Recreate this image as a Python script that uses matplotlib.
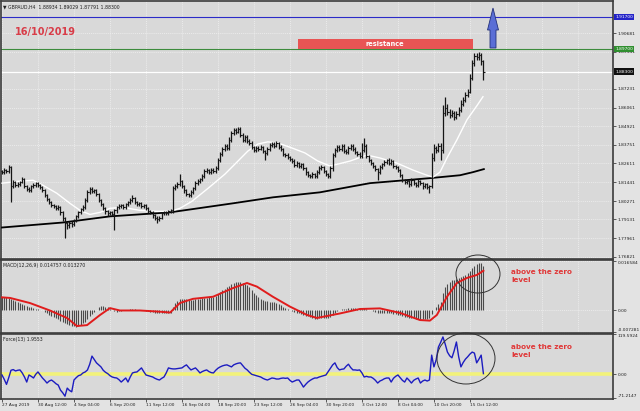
import matplotlib
matplotlib.use("Agg")
import matplotlib.pyplot as plt
from matplotlib.patches import Rectangle, Ellipse, Polygon
import numpy as np

# GBPAUD H4, 27 Aug - 16 Oct 2019
closes = [
    1.8206, 1.8219, 1.8212, 1.8237, 1.8119, 1.8144, 1.8125, 1.8131, 1.8144, 1.8163,
    1.8119, 1.8100, 1.8094, 1.8119, 1.8125, 1.8138, 1.8125, 1.8113, 1.8094, 1.8063,
    1.8038, 1.8019, 1.8000, 1.7994, 1.7982, 1.7988, 1.7957, 1.7919, 1.7888, 1.7876,
    1.7894, 1.7882, 1.7907, 1.7932, 1.7957, 1.7975, 1.7988, 1.8032, 1.8081, 1.8100,
    1.8088, 1.8094, 1.8069, 1.8032, 1.8007, 1.7982, 1.7963, 1.7950, 1.7957, 1.7944,
    1.7969, 1.7988, 1.7994, 1.8000, 1.7988, 1.8007, 1.8019, 1.8032, 1.8044, 1.8019,
    1.8007, 1.8013, 1.7994, 1.8000, 1.7982, 1.7963, 1.7957, 1.7938, 1.7925, 1.7913,
    1.7925, 1.7950, 1.7957, 1.7950, 1.7963, 1.7969, 1.8106, 1.8119, 1.8131, 1.8150,
    1.8119, 1.8094, 1.8069, 1.8063, 1.8081, 1.8106, 1.8138, 1.8150, 1.8163, 1.8181,
    1.8213, 1.8219, 1.8206, 1.8219, 1.8212, 1.8231, 1.8281, 1.8319, 1.8350, 1.8369,
    1.8356, 1.8406, 1.8450, 1.8468, 1.8456, 1.8475, 1.8438, 1.8406, 1.8425, 1.8400,
    1.8387, 1.8362, 1.8344, 1.8356, 1.8350, 1.8362, 1.8337, 1.8325, 1.8350, 1.8375,
    1.8381, 1.8369, 1.8387, 1.8362, 1.8350, 1.8319, 1.8312, 1.8300, 1.8287, 1.8275,
    1.8250, 1.8262, 1.8244, 1.8256, 1.8231, 1.8206, 1.8187, 1.8181, 1.8194, 1.8181,
    1.8206, 1.8231, 1.8237, 1.8212, 1.8194, 1.8181, 1.8231, 1.8312, 1.8344, 1.8362,
    1.8350, 1.8369, 1.8337, 1.8331, 1.8356, 1.8369, 1.8350, 1.8331, 1.8319, 1.8306,
    1.8344, 1.8369, 1.8306, 1.8281, 1.8262, 1.8244, 1.8225, 1.8206, 1.8237, 1.8256,
    1.8269, 1.8281, 1.8262, 1.8275, 1.8244, 1.8237, 1.8219, 1.8187, 1.8156, 1.8144,
    1.8150, 1.8131, 1.8156, 1.8138, 1.8125, 1.8150, 1.8138, 1.8119, 1.8131, 1.8113,
    1.8119, 1.8294, 1.8356, 1.8344, 1.8369, 1.8344, 1.8574, 1.8606, 1.8581, 1.8562,
    1.8574, 1.8549, 1.8568, 1.8593, 1.8631, 1.8656, 1.8687, 1.8706, 1.8793, 1.8880,
    1.8924, 1.8918, 1.8930, 1.8893, 1.8830,
]
first_open = 1.8212

# wick lengths in pips above / below the bar body
wick_up = [
    10, 12, 9, 13, 8, 11, 9, 14, 10, 12,
    8, 9, 11, 10, 12, 9, 8, 10, 7, 9,
    8, 10, 9, 7, 11, 12, 8, 9, 10, 11,
    12, 9, 10, 11, 9, 10, 12, 14, 12, 15,
    11, 10, 8, 9, 10, 8, 9, 11, 10, 8,
    9, 10, 12, 9, 11, 10, 9, 12, 18, 10,
    9, 11, 8, 10, 9, 8, 10, 9, 7, 8,
    10, 9, 11, 8, 10, 9, 14, 12, 15, 45,
    10, 9, 8, 10, 12, 11, 13, 12, 10, 11,
    14, 12, 9, 11, 10, 12, 15, 13, 12, 14,
    10, 16, 12, 14, 11, 12, 10, 9, 12, 10,
    9, 10, 8, 11, 10, 12, 9, 8, 11, 14,
    13, 10, 14, 9, 10, 8, 9, 10, 8, 9,
    10, 11, 9, 10, 8, 9, 10, 8, 11, 9,
    12, 11, 14, 9, 10, 8, 15, 16, 12, 15,
    11, 12, 9, 10, 13, 12, 9, 10, 8, 11,
    40, 50, 10, 8, 9, 10, 9, 8, 11, 10,
    12, 9, 10, 11, 8, 9, 10, 8, 9, 10,
    11, 9, 12, 8, 10, 12, 9, 8, 11, 9,
    10, 30, 22, 14, 16, 20, 50, 65, 20, 18,
    16, 14, 15, 18, 20, 16, 18, 15, 22, 20,
    18, 20, 21, 16, 10,
]
wick_dn = [
    12, 10, 14, 9, 100, 12, 10, 9, 11, 8,
    14, 12, 10, 9, 11, 10, 12, 9, 10, 11,
    12, 10, 9, 11, 10, 12, 14, 16, 90, 20,
    15, 18, 12, 10, 11, 9, 10, 12, 9, 10,
    11, 9, 12, 10, 11, 12, 14, 13, 10, 12,
    95, 14, 10, 11, 12, 9, 10, 11, 9, 12,
    10, 12, 11, 9, 13, 12, 10, 14, 15, 20,
    12, 10, 9, 11, 10, 12, 15, 10, 12, 11,
    12, 14, 11, 13, 10, 9, 11, 10, 12, 9,
    10, 11, 12, 9, 13, 10, 12, 10, 11, 12,
    14, 10, 12, 11, 13, 10, 12, 15, 11, 12,
    10, 12, 11, 13, 10, 9, 12, 44, 10, 11,
    12, 10, 9, 12, 11, 13, 10, 12, 11, 14,
    12, 10, 11, 13, 12, 15, 12, 10, 11, 12,
    10, 11, 9, 12, 13, 14, 12, 15, 10, 12,
    11, 10, 13, 12, 10, 11, 12, 14, 12, 11,
    12, 10, 14, 13, 12, 11, 12, 50, 10, 11,
    9, 10, 12, 11, 13, 12, 14, 12, 13, 11,
    12, 14, 10, 12, 13, 10, 12, 15, 11, 14,
    36, 12, 20, 18, 15, 63, 16, 20, 22, 18,
    15, 17, 16, 14, 12, 15, 14, 16, 12, 18,
    15, 18, 16, 20, 51,
]

# moving averages (white = fast, black = slow), sampled along the line
ma_fast_bar = [0, 8, 13.8, 18.2, 24.4, 30.2, 34.7, 39.1, 43.6, 48, 53.8, 61.3, 68.9,
               74.7, 79.1, 84.4, 91.6, 99.1, 104.9, 109.3, 113.8, 118.2, 122.7, 128.9,
               134.7, 140.4, 145.8, 154.7, 162.2, 168, 175.6, 182.7, 188.9, 191.6,
               194.7, 197.8, 202.2, 206.7, 211.1, 213.8]
ma_fast_val = [1.8138, 1.8150, 1.8156, 1.8125, 1.8075, 1.8013, 1.7969, 1.7944, 1.7957,
               1.7982, 1.7988, 1.7969, 1.7963, 1.7963, 1.7982, 1.8025, 1.8106, 1.8194,
               1.8275, 1.8337, 1.8381, 1.8394, 1.8387, 1.8356, 1.8325, 1.8275, 1.8244,
               1.8275, 1.8312, 1.8294, 1.8262, 1.8219, 1.8187, 1.8175, 1.8206, 1.8294,
               1.8406, 1.8531, 1.8618, 1.8674]
ma_slow_bar = [0, 27.1, 48, 74.7, 102.7, 120.4, 141.3, 163.6, 190.2, 203.6, 209.3, 214.2]
ma_slow_val = [1.7863, 1.7894, 1.7932, 1.7957, 1.8013, 1.8050, 1.8081, 1.8138, 1.8169,
               1.8187, 1.8206, 1.8225]

# MACD(12,26,9): main histogram per bar, signal line sampled
macd_main = [
    0.0044, 0.0045, 0.0044, 0.0043, 0.0040, 0.0036, 0.0032, 0.0029, 0.0026, 0.0022,
    0.0019, 0.0016, 0.0013, 0.0010, 0.0008, 0.0006, 0.0004, 0.0002, 0.0000, -0.0004,
    -0.0009, -0.0014, -0.0018, -0.0022, -0.0026, -0.0030, -0.0034, -0.0038, -0.0041, -0.0044,
    -0.0048, -0.0051, -0.0053, -0.0055, -0.0052, -0.0047, -0.0042, -0.0037, -0.0030, -0.0020,
    -0.0012, -0.0005, 0.0001, 0.0012, 0.0016, 0.0015, 0.0013, 0.0010, 0.0006, 0.0002,
    -0.0002, -0.0004, -0.0003, -0.0002, 0.0000, 0.0002, 0.0003, 0.0004, 0.0005, 0.0004,
    0.0003, 0.0002, 0.0001, 0.0000, -0.0002, -0.0003, -0.0004, -0.0006, -0.0008, -0.0009,
    -0.0010, -0.0010, -0.0009, -0.0009, -0.0008, -0.0008, 0.0010, 0.0024, 0.0033, 0.0038,
    0.0040, 0.0039, 0.0037, 0.0035, 0.0034, 0.0035, 0.0037, 0.0039, 0.0040, 0.0041,
    0.0042, 0.0043, 0.0044, 0.0045, 0.0046, 0.0050, 0.0056, 0.0062, 0.0068, 0.0073,
    0.0078, 0.0083, 0.0088, 0.0092, 0.0094, 0.0096, 0.0096, 0.0093, 0.0090, 0.0086,
    0.0078, 0.0069, 0.0060, 0.0052, 0.0046, 0.0040, 0.0036, 0.0033, 0.0031, 0.0030,
    0.0030, 0.0028, 0.0025, 0.0021, 0.0017, 0.0013, 0.0009, 0.0005, 0.0001, -0.0003,
    -0.0006, -0.0008, -0.0010, -0.0013, -0.0015, -0.0018, -0.0020, -0.0023, -0.0025, -0.0027,
    -0.0027, -0.0026, -0.0025, -0.0024, -0.0024, -0.0025, -0.0022, -0.0015, -0.0008, -0.0003,
    0.0001, 0.0004, 0.0005, 0.0006, 0.0007, 0.0008, 0.0008, 0.0007, 0.0006, 0.0005,
    0.0006, 0.0007, 0.0005, 0.0003, 0.0000, -0.0002, -0.0005, -0.0007, -0.0008, -0.0008,
    -0.0008, -0.0008, -0.0009, -0.0010, -0.0011, -0.0012, -0.0014, -0.0016, -0.0019, -0.0021,
    -0.0023, -0.0024, -0.0025, -0.0026, -0.0027, -0.0027, -0.0027, -0.0027, -0.0027, -0.0027,
    -0.0026, -0.0011, 0.0003, 0.0013, 0.0022, 0.0028, 0.0060, 0.0078, 0.0090, 0.0097,
    0.0101, 0.0103, 0.0106, 0.0109, 0.0112, 0.0116, 0.0120, 0.0124, 0.0132, 0.0142,
    0.0150, 0.0155, 0.0159, 0.0158, 0.0148,
]
macd_sig_bar = [0, 3.6, 12.4, 21.3, 28.9, 33.3, 37.8, 43.6, 48, 52.4, 61.3, 70.2, 74.7,
                79.1, 84.9, 93.8, 102.7, 108.9, 113.3, 120.4, 128, 135.6, 140, 150.2,
                159.1, 168, 176.9, 185.8, 190.2, 193.3, 197.8, 202.2, 206.7, 211.1, 214]
macd_sig_val = [0.0044, 0.0042, 0.0025, 0.0000, -0.0025, -0.0052, -0.0049, -0.0015, 0.0008,
                0.0000, 0.0000, -0.0004, -0.0007, 0.0025, 0.0039, 0.0046, 0.0075, 0.0092,
                0.0080, 0.0046, 0.0013, -0.0015, -0.0025, -0.0010, 0.0005, 0.0007, -0.0008,
                -0.0032, -0.0034, -0.0015, 0.0046, 0.0092, 0.0109, 0.0119, 0.0133]

# Force(13)
force = [
    -2, -15, -30, -10, 12, 14, 10, 12, 13, 4,
    -8, -23, -2, -6, -11, 0, 7, -2, -11, -18,
    -26, -20, -17, -22, -28, -32, -47, -55, -65, -41,
    -48, -52, -17, -10, -4, -2, 4, 7, 13, 30,
    54, 44, 34, 28, 22, 12, 6, 2, -4, -8,
    -10, -11, -16, -23, -17, -11, -23, -8, 4, 6,
    7, 13, 19, 8, -2, -4, -6, -8, -12, -15,
    -17, -12, -8, 4, 19, 17, 16, 16, 17, 18,
    19, 24, 28, 20, 13, 16, 19, 12, 4, 8,
    11, 13, 8, 5, 4, 12, 18, 22, 25, 27,
    28, 25, 22, 28, 31, 33, 34, 26, 18, 13,
    6, 0, -2, -4, -6, -8, -12, -15, -17, -14,
    -11, -12, -14, -14, -12, -11, -12, -11, -18, -23,
    -20, -17, -17, -27, -38, -30, -23, -18, -14, -11,
    -11, -8, -6, -4, -2, 8, 18, 28, 34, 20,
    13, 15, 16, 24, 30, 20, 13, 13, 12, 13,
    4, -8, -6, -8, -8, -12, -18, -26, -20, -17,
    -13, -11, -11, -23, -12, -6, -2, -10, -18, -23,
    -11, -18, -26, -18, -14, -11, -26, -20, -17, -20,
    -17, 57, 22, 43, 81, 95, 111, 90, 66, 55,
    49, 70, 96, 52, 22, 35, 45, 52, 60, 66,
    63, 34, 45, 57, 1.9553,
]

time_ticks = [0, 16, 32, 48, 64, 80, 96, 112, 128, 144, 160, 176, 192, 208]
time_labels = ["27 Aug 2019", "30 Aug 12:00", "4 Sep 04:00", "6 Sep 20:00",
               "11 Sep 12:00", "16 Sep 04:00", "18 Sep 20:00", "23 Sep 12:00",
               "26 Sep 04:00", "30 Sep 20:00", "3 Oct 12:00", "8 Oct 04:00",
               "10 Oct 20:00", "15 Oct 12:00"]
price_ticks = [1.90681, 1.89541, 1.87231, 1.86061, 1.84921, 1.83751, 1.82611,
               1.81441, 1.80271, 1.79131, 1.77961, 1.76821]
macd_ticks = [0.016584, 0.0, -0.007281]
macd_labels = ["0.016584", "0.00", "-0.007281"]
force_ticks = [119.5924, 0.0, -71.2147]
force_labels = ["119.5924", "0.00", "-71.2147"]

resistance = 1.89700
target = 1.91700
bid = 1.88300

BG = "#d9d9d9"
GRID = "#f2f2f2"
FRAME = "#3c3c3c"
W, H = 640, 411

fig = plt.figure(figsize=(W / 100, H / 100), dpi=100)
fig.patch.set_facecolor("#e3e3e3")


def panel(top, bottom):
    return fig.add_axes([1 / W, 1 - bottom / H, 612 / W, (bottom - top) / H])


ax = panel(1, 259)
ax2 = panel(260, 332.5)
ax3 = panel(333.5, 398.5)

for a in (ax, ax2, ax3):
    a.set_facecolor(BG)
    a.set_xlim(-0.44, 271.6)
    a.yaxis.tick_right()
    a.tick_params(axis="y", length=2, width=0.5, pad=1.2, labelsize=3.2,
                  colors="#202020")
    a.tick_params(axis="x", length=0, labelbottom=False)
    a.set_xticks(range(0, 272, 16))
    for s in a.spines.values():
        s.set_color(FRAME)
        s.set_linewidth(1.2)
    a.grid(True, color=GRID, lw=0.5, ls=(0, (1.5, 1.5)))
    a.set_axisbelow(True)

# main price panel
n = len(closes)
idx = np.arange(n)
c = np.array(closes)
o = np.r_[first_open, c[:-1]]
hi = np.maximum(o, c) + np.array(wick_up) / 10000
lo = np.minimum(o, c) - np.array(wick_dn) / 10000

ax.set_ylim(1.76677, 1.92673)
ax.set_yticks(price_ticks)
ax.set_yticklabels([f"{p:.5f}" for p in price_ticks])
ax.axhline(bid, color="white", lw=0.9, zorder=2)
ax.axhline(resistance, color="#3d8c3d", lw=0.8, zorder=2)
ax.axhline(target, color="#2b2bc8", lw=0.8, zorder=2)
ax.plot(ma_slow_bar, ma_slow_val, color="black", lw=1.3, zorder=3)
ax.plot(ma_fast_bar, ma_fast_val, color="white", lw=1.0, zorder=3)
ax.vlines(idx, lo, hi, color="#151515", lw=0.9, zorder=4)
ax.hlines(o, idx - 0.5, idx, color="#151515", lw=0.8, zorder=4)
ax.hlines(c, idx, idx + 0.5, color="#151515", lw=0.8, zorder=4)

ytr = ax.get_yaxis_transform()
for val, txt, bg in [(target, "1.91700", "#2424c8"), (resistance, "1.89700", "#2f8f2f"),
                     (bid, "1.88300", "#101010")]:
    ax.text(1.004, val, txt, transform=ytr, fontsize=3.2, color="white", va="center",
            ha="left", clip_on=False, zorder=10,
            bbox=dict(boxstyle="square,pad=0.25", fc=bg, ec="none"))
ax.text(0.003, 0.985, "\u25bc GBPAUD,H4  1.88934 1.89029 1.87791 1.88300",
        transform=ax.transAxes, fontsize=3.3, color="#202020", va="top")

# MACD panel
ax2.set_ylim(-0.00737, 0.0169)
ax2.set_yticks(macd_ticks)
ax2.set_yticklabels(macd_labels)
ax2.vlines(idx, 0, macd_main, color="#4a4a4a", lw=0.8, zorder=3)
ax2.plot(macd_sig_bar, macd_sig_val, color="#e01c1c", lw=1.4, zorder=4)
ax2.text(0.003, 0.96, "MACD(12,26,9) 0.014757 0.013270", transform=ax2.transAxes,
         fontsize=3.3, color="#202020", va="top")

# Force panel
ax3.set_ylim(-71.9, 121.2)
ax3.set_yticks(force_ticks)
ax3.set_yticklabels(force_labels)
ax3.axhline(0, color="#f2f27a", lw=2.6, zorder=2)
ax3.plot(idx, force, color="#1c1cc0", lw=1.0, zorder=4)
ax3.text(0.003, 0.95, "Force(13) 1.9553", transform=ax3.transAxes,
         fontsize=3.3, color="#202020", va="top")
ax3.set_xticks(time_ticks)
ax3.set_xticklabels(time_labels, ha="left")
ax3.tick_params(axis="x", length=2, width=0.5, pad=1.2, labelsize=3.1,
                labelbottom=True, colors="#202020")

# keep the edge labels of the indicator panels inside their own panel
for a in (ax2, ax3):
    labels = a.get_yticklabels()
    labels[0].set_va("top")
    labels[-1].set_va("bottom")

# hand-drawn annotations in pixel space
ov = fig.add_axes([0, 0, 1, 1], facecolor="none")
ov.set_xlim(0, W)
ov.set_ylim(H, 0)
ov.axis("off")
ov.text(15, 32, "16/10/2019", color="#d83c48", fontsize=7, fontweight="bold",
        va="center", ha="left")
ov.add_patch(Rectangle((298, 39.5), 175, 9.5, fc="#e85454", ec="none"))
ov.text(385, 44.3, "resistance", color="white", fontsize=4.8, fontweight="bold",
        ha="center", va="center")
ov.add_patch(Polygon([(490, 48), (496, 48), (496, 30), (498.5, 30), (493, 8),
                      (487.5, 30), (490, 30)], closed=True, fc="#5a6ed6",
                     ec="#23307a", lw=0.6))
ov.add_patch(Ellipse((478, 274), 44, 38, fill=False, ec="#333333", lw=0.7))
ov.add_patch(Ellipse((466, 358.5), 58, 51, fill=False, ec="#333333", lw=0.7))
for y0 in (276, 351):
    ov.text(511, y0, "above the zero\nlevel", color="#e03838", fontsize=5.2,
            fontweight="bold", ha="left", va="center", linespacing=1.25)

fig.savefig("out.png", dpi=100, facecolor=fig.get_facecolor())
